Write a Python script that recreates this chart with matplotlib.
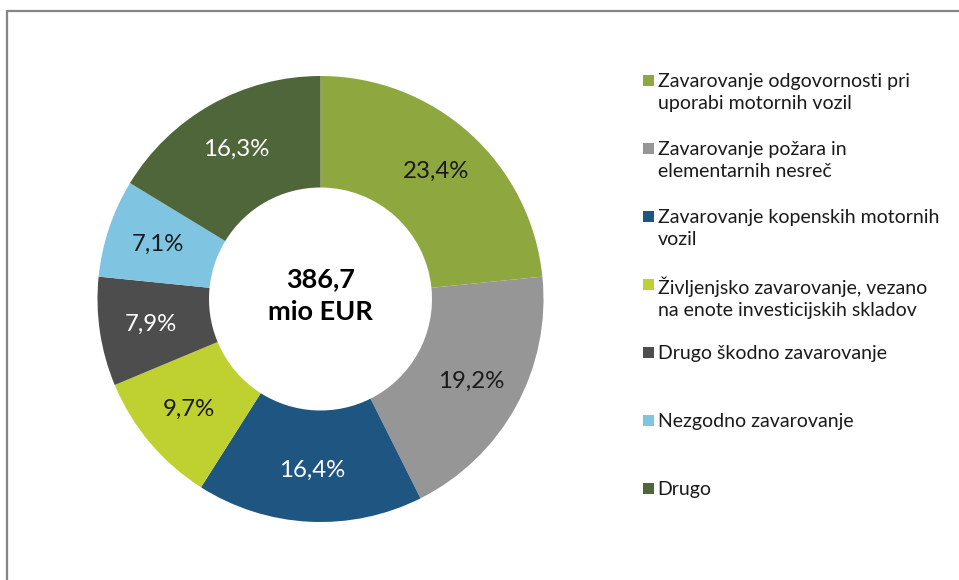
import matplotlib
matplotlib.use("Agg")
import matplotlib.pyplot as plt
from matplotlib.patches import Rectangle
import numpy as np

plt.rcParams['font.family'] = ['Lato', 'DejaVu Sans']

categories = [
    "Zavarovanje odgovornosti pri\nuporabi motornih vozil",
    "Zavarovanje požara in\nelementarnih nesreč",
    "Zavarovanje kopenskih motornih\nvozil",
    "Življenjsko zavarovanje, vezano\nna enote investicijskih skladov",
    "Drugo škodno zavarovanje",
    "Nezgodno zavarovanje",
    "Drugo",
]
shares = [23.4, 19.2, 16.4, 9.7, 7.9, 7.1, 16.3]
share_labels = ["23,4%", "19,2%", "16,4%", "9,7%", "7,9%", "7,1%", "16,3%"]
colors = ["#8EA83F", "#969696", "#1F5581", "#BFD031", "#4D4D4D", "#7FC4E1", "#4F663A"]
label_colors = ["#1a1a1a", "#1a1a1a", "white", "#1a1a1a", "white", "#1a1a1a", "white"]
center_text = "386,7\nmio EUR"

W, H = 959, 580
fig = plt.figure(figsize=(W / 100, H / 100), dpi=100)
fig.patch.set_facecolor("white")

# chart frame (extends beyond the image on right and bottom)
fig.patches.append(Rectangle((6.5 / W, -0.1), 1.2, (H - 10.5) / H + 0.1,
                             transform=fig.transFigure, fill=False,
                             edgecolor="#858585", linewidth=1.6))

cx, cy, R = 320.5, 299, 223
ax = fig.add_axes([(cx - R) / W, (H - cy - R) / H, 2 * R / W, 2 * R / H])
wedges, _ = ax.pie(shares, colors=colors, startangle=90, counterclock=False,
                   radius=1.0, wedgeprops=dict(width=0.5, linewidth=0))
for w, lab, lc in zip(wedges, share_labels, label_colors):
    ang = np.deg2rad((w.theta1 + w.theta2) / 2)
    r = 0.77
    ax.text(r * np.cos(ang), r * np.sin(ang), lab, ha="center", va="center",
            fontsize=17.3, color=lc)
ax.text(0, 3.5 / R, center_text, ha="center", va="center", fontsize=19.5,
        fontweight="bold", color="black", linespacing=1.4)
ax.set_xlim(-1, 1)
ax.set_ylim(-1, 1)
ax.set_aspect("equal")
ax.axis("off")

# legend
y0, step = 80, 68
for i, (lab, col) in enumerate(zip(categories, colors)):
    y = y0 + i * step
    fig.patches.append(Rectangle((643 / W, (H - y - 5.5) / H), 11 / W, 11 / H,
                                 transform=fig.transFigure, facecolor=col,
                                 edgecolor="none"))
    fig.text(657.5 / W, (H - y + 7.5) / H, lab, ha="left", va="top",
             fontsize=14, color="#1a1a1a", linespacing=1.38)

fig.savefig("out.png", dpi=100)
